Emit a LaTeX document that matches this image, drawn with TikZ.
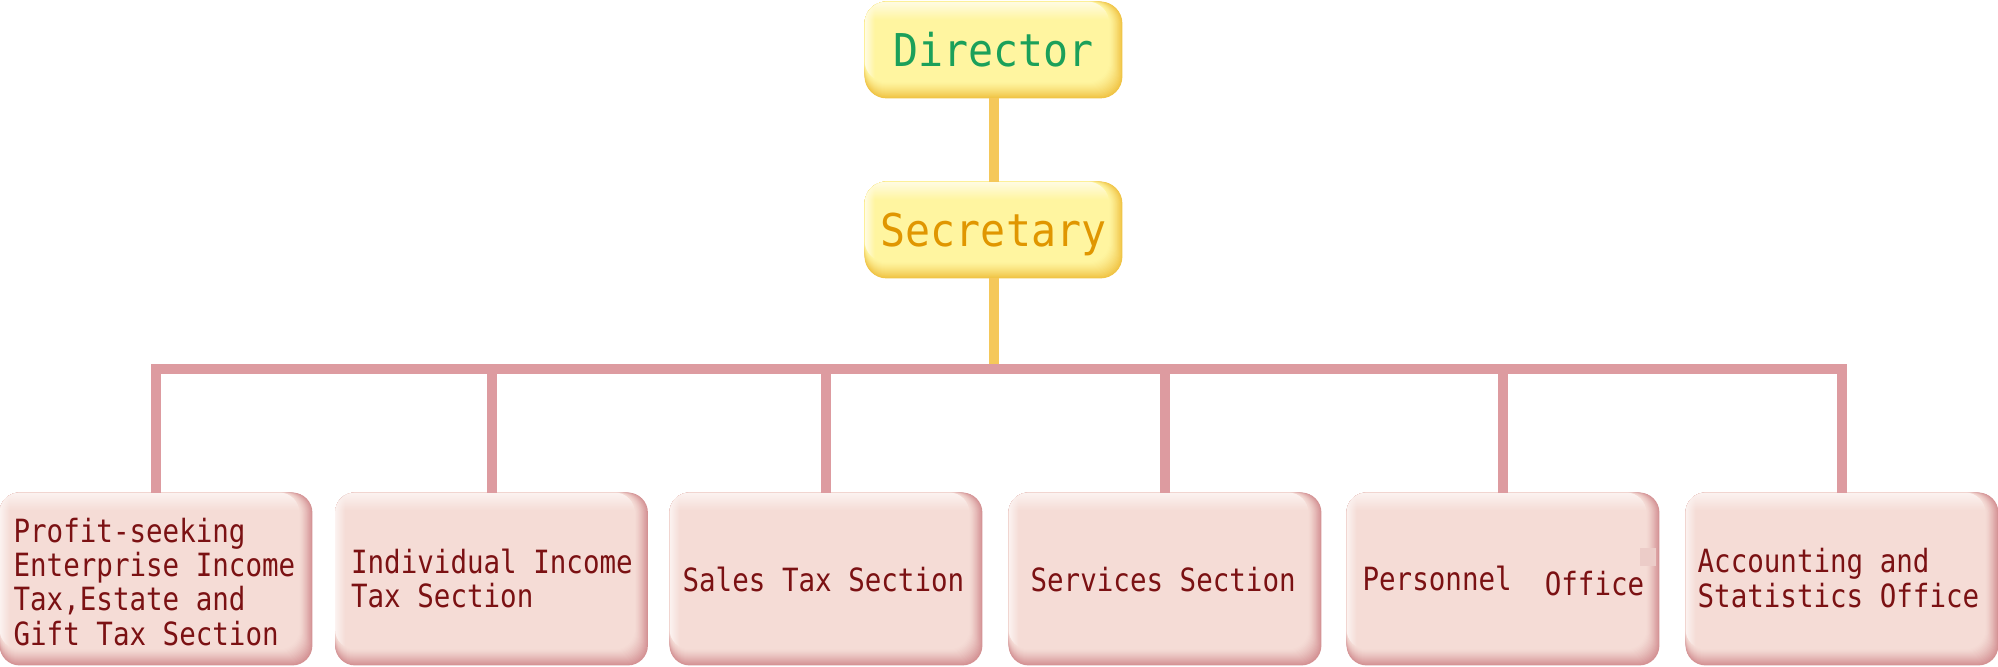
\documentclass[tikz,border=0pt]{standalone}
\usepackage{fontspec}
\newfontfamily\orgfont[FakeStretch=0.86]{DejaVu Sans Mono}
\newfontfamily\headfont[FakeStretch=0.92]{DejaVu Sans Mono}
\usetikzlibrary{fadings,backgrounds,calc}
\definecolor{yedge}{RGB}{240,196,70}
\definecolor{ymain}{RGB}{255,245,160}
\definecolor{ylight}{RGB}{255,252,228}
\definecolor{pedge}{RGB}{212,146,148}
\definecolor{pmain}{RGB}{245,220,214}
\definecolor{plight}{RGB}{252,243,241}
\definecolor{ylinec}{RGB}{245,200,90}
\definecolor{plinec}{RGB}{221,155,160}
\definecolor{dirgreen}{RGB}{27,160,90}
\definecolor{secorange}{RGB}{224,150,0}
\definecolor{ptext}{RGB}{123,17,19}
\definecolor{glitch}{RGB}{236,204,200}
\tikzfading[name=fadedown, top color=transparent!0, bottom color=transparent!100]
\tikzfading[name=faderight, left color=transparent!0, right color=transparent!100]
\newcommand\bevel[5]{%
\begin{scope}[on background layer]
  \fill[#2, rounded corners=#5] (#1.north west) rectangle (#1.south east);
  \foreach \k in {1,...,16}{
    \pgfmathsetmacro\pp{100*(1-\k/16)^1.3}
    \fill[#2!\pp!#3, rounded corners=#5] (#1.north west) rectangle ([shift={(-0.8*\k,-1.0*\k)}]#1.south east);
  }
  \begin{scope}
    \clip[rounded corners=#5] (#1.north west) rectangle ([shift={(-13,-16)}]#1.south east);
    \fill[#4, path fading=fadedown] (#1.north west) rectangle ([yshift=-9pt]#1.north east);
    \fill[#4, path fading=faderight] (#1.north west) rectangle ([xshift=5pt]#1.south west);
  \end{scope}
\end{scope}}
\newcommand\plab[3]{\makebox[156pt][l]{\hspace*{#1}\raisebox{#2}[\height][\depth]{\begin{tabular}{@{}l@{}}#3\end{tabular}}}}
\tikzset{
  ybox/.style={rectangle, inner sep=0pt, minimum width=128.5pt, minimum height=48pt,
    font=\headfont\fontsize{22.6}{24}\selectfont, text height=16.5pt, text depth=0pt},
  pbox/.style={rectangle, inner sep=0pt, minimum width=156pt, minimum height=86pt,
    font=\orgfont\fontsize{16}{16.7}\selectfont, text=ptext},
  yconn/.style={draw=ylinec, line width=5pt},
  pconn/.style={draw=plinec, line width=5pt, line join=miter},
}
\begin{document}
\begin{tikzpicture}[x=0.5pt, y=-0.5pt]
\useasboundingbox (0,0) rectangle (1998,666);
\begin{scope}[on background layer]
  \fill[white] (0,0) rectangle (1998,666);
\end{scope}

\node[ybox, text=dirgreen] (dir) at (993.5,50) {Director};
\node[ybox, text=secorange] (sec) at (993.5,230) {Secretary};
\bevel{dir}{yedge}{ymain}{ylight}{11pt}
\bevel{sec}{yedge}{ymain}{ylight}{11pt}

\node[pbox] (p1) at (156,579) {\plab{6.8pt}{-3.7pt}{Profit-seeking\\Enterprise Income\\Tax,Estate and\\Gift Tax Section}};
\node[pbox] (p2) at (491.5,579) {\plab{7.8pt}{-2pt}{Individual Income\\Tax Section}};
\node[pbox] (p3) at (826,579) {\plab{6.3pt}{-2.65pt}{Sales Tax Section}};
\node[pbox] (p4) at (1165,579) {\plab{10.8pt}{-2.65pt}{Services Section}};
\node[pbox] (p5) at (1503,579) {\plab{7.8pt}{-2.15pt}{Personnel\ \ \raisebox{-2.5pt}{Office}}};
\node[pbox] (p6) at (1842,579) {\plab{5.8pt}{-2pt}{Accounting and\\Statistics Office}};
\foreach \n in {p1,p2,p3,p4,p5,p6}{\bevel{\n}{pedge}{pmain}{plight}{10pt}}

\fill[glitch] (1640,548) rectangle (1656,566);

\coordinate (jn) at (993.5,364);
\coordinate (bar) at (993.5,369);
\draw[yconn] (dir.south) -- (sec.north);
\draw[yconn] (sec.south) -- (jn);
\draw[pconn] (p1.north) |- (bar) -| (p6.north);
\foreach \n in {p2,p3,p4,p5}{\draw[pconn] (\n.north) -- (\n.north |- bar);}
\end{tikzpicture}
\end{document}
